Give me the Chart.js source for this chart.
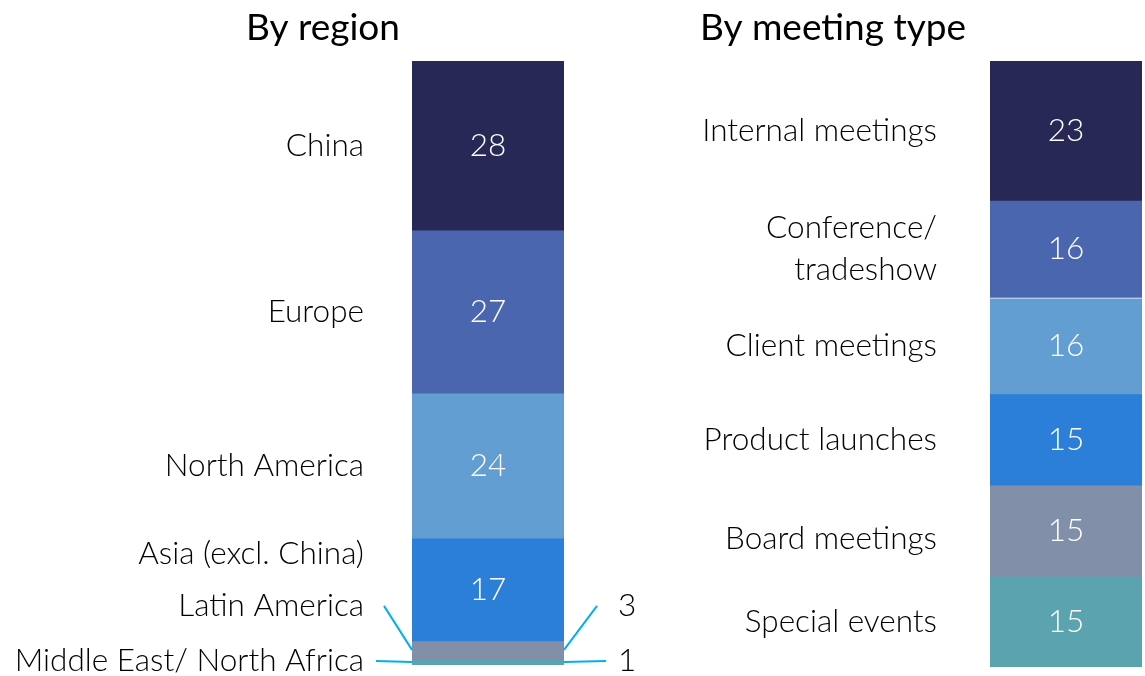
<!DOCTYPE html>
<html>
<head>
<meta charset="utf-8">
<script src="https://cdn.jsdelivr.net/npm/chart.js@4/dist/chart.umd.min.js"></script>
<style>
body{margin:0;background:#fff;width:1145px;height:676px;overflow:hidden;position:relative}
canvas{position:absolute;top:0}
#regionChart{left:0}
#meetingChart{left:640px}
</style>
</head>
<body>
<canvas id="regionChart" width="640" height="676"></canvas>
<canvas id="meetingChart" width="505" height="676"></canvas>
<script>
// share of meetings (%), top segment first
const regions = ["China", "Europe", "North America", "Asia (excl. China)", "Latin America", "Middle East/ North Africa"];
const regionValues = [28, 27, 24, 17, 3, 1];

const meetingTypes = [["Internal meetings"], ["Conference/", "tradeshow"], ["Client meetings"], ["Product launches"], ["Board meetings"], ["Special events"]];
const meetingValues = [23, 16, 16, 15, 15, 15];

const colors = ["#272856", "#4a66ae", "#629ed2", "#2b7fd8", "#8190a8", "#5ba3af"];
const FONT = "Lato";

//builds the plugin that writes the title, category names and values round a stack
function stackLabels(cfg){
    return {
        id: 'stackLabels',
        afterDraw(chart){
            const ctx = chart.ctx;
            ctx.save();
            ctx.fillStyle = '#000';
            ctx.font = `400 37px ${FONT}`;
            ctx.textAlign = 'center';
            ctx.textBaseline = 'alphabetic';
            ctx.fillText(cfg.title, cfg.titleX, 40);

            chart.data.datasets.forEach((ds, i) => {
                const bar = chart.getDatasetMeta(i).data[0];
                const left = bar.x - bar.width / 2;
                const right = bar.x + bar.width / 2;
                const mid = (bar.y + bar.base) / 2;
                const lines = [].concat(ds.label);
                const call = cfg.callouts[i];
                let ly = mid + (cfg.nudge[i] || 0);

                ctx.font = `300 31.5px ${FONT}`;
                ctx.textBaseline = 'middle';
                if (call) {
                    ly = mid + call.dy;
                    // thin leader lines out to the names and values
                    ctx.strokeStyle = '#00b0f0';
                    ctx.lineWidth = 2;
                    ctx.beginPath();
                    ctx.moveTo(left, mid);
                    ctx.lineTo(left - call.l, ly);
                    ctx.moveTo(right, mid);
                    ctx.lineTo(right + call.r, ly);
                    ctx.stroke();
                    ctx.fillStyle = '#000';
                    ctx.textAlign = 'left';
                    ctx.fillText(ds.data[0], right + 54, ly);
                } else {
                    ctx.fillStyle = '#fff';
                    ctx.textAlign = 'center';
                    ctx.fillText(ds.data[0], bar.x, mid);
                }
                ctx.fillStyle = '#000';
                ctx.textAlign = 'right';
                const lh = 42;
                lines.forEach((t, k) => {
                    ctx.fillText(t, left - cfg.gap, ly + (k - (lines.length - 1) / 2) * lh);
                });
            });
            ctx.restore();
        }
    };
}

function stackChart(id, names, values, padding, cfg, extra){
    const datasets = names.map((n, i) => Object.assign({
        label: n,
        data: [values[i]],
        backgroundColor: colors[i],
        borderWidth: 0,
        barPercentage: 1,
        categoryPercentage: 1
    }, extra[i] || {}));
    return new Chart(document.getElementById(id), {
        type: 'bar',
        data: {labels: [''], datasets},
        options: {
            responsive: false,
            animation: false,
            layout: {padding},
            plugins: {legend: {display: false}, tooltip: {enabled: false}},
            scales: {
                x: {stacked: true, display: false},
                y: {stacked: true, display: false, reverse: true, min: 0, max: 100}
            }
        },
        plugins: [stackLabels(cfg)]
    });
}

stackChart('regionChart', regions, regionValues,
    {left: 412, right: 76, top: 61, bottom: 11},
    {title: 'By region', titleX: 323, gap: 48, nudge: {3: -36},
     callouts: {4: {dy: -44, l: 28, r: 33}, 5: {dy: -1, l: 36, r: 42}}},
    {});

stackChart('meetingChart', meetingTypes, meetingValues,
    {left: 350, right: 3, top: 61, bottom: 9},
    {title: 'By meeting type', titleX: 193, gap: 53, nudge: {4: 8}, callouts: {}},
    {2: {borderColor: '#fff', borderWidth: {top: 1.5, bottom: 0, left: 0, right: 0}, borderSkipped: false}});
</script>
</body>
</html>
